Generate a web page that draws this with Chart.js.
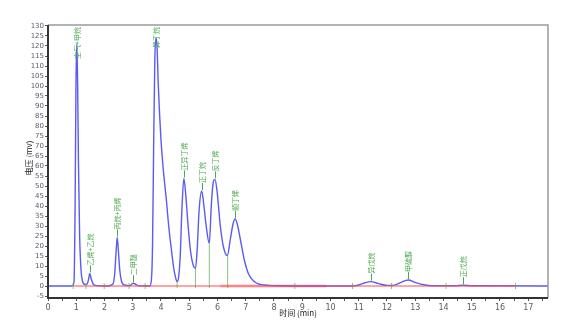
<!DOCTYPE html>
<html>
<head>
<meta charset="utf-8">
<script src="https://cdn.jsdelivr.net/npm/chart.js@4.4.0/dist/chart.umd.min.js"></script>
<style>
  html, body { margin: 0; padding: 0; background: #fff; }
  #wrap { width: 581px; height: 322px; position: relative; }
</style>
</head>
<body>
<div id="wrap"><canvas id="chart"></canvas></div>
<script>
// chromatogram trace (time in min, signal in mv)
const times = [0, 0.85, 0.92, 0.96, 0.99, 1.02, 1.05, 1.08, 1.12, 1.17, 1.22, 1.3, 1.38, 1.43, 1.48, 1.53, 1.6, 1.7,
    2.1, 2.3, 2.36, 2.41, 2.45, 2.49, 2.54, 2.6, 2.7, 2.9, 2.97, 3.02, 3.08, 3.2, 3.6, 3.66, 3.7, 3.74, 3.78, 3.82,
    3.86, 3.9, 3.95, 4.0, 4.07, 4.19, 4.28, 4.37, 4.45, 4.52, 4.57, 4.62, 4.68, 4.74, 4.81, 4.88, 4.96, 5.05, 5.15, 5.22, 5.28,
    5.35, 5.44, 5.52, 5.6, 5.71, 5.78, 5.85, 5.91, 5.98, 6.1, 6.22, 6.35, 6.45, 6.55, 6.62, 6.7, 6.8, 6.95, 7.1,
    7.3, 7.5, 7.8, 8.2, 9.0, 10.8, 11.0, 11.2, 11.43, 11.7, 12.0, 12.22, 12.5, 12.75, 13.0, 13.3, 13.6, 14.4,
    14.7, 15.0, 17.7];
const volts = [0, 0, 2, 40, 100, 121, 100, 60, 25, 8, 2.5, 0.8, 0.8, 3, 6.3, 3.5, 1, 0.2,
    0, 1, 6, 17, 24.3, 18, 8, 2.5, 0.5, 0.2, 1, 1.4, 1, 0.2, 0, 3, 20, 70, 112, 124,
    120, 102, 86, 73, 60, 43, 29, 18, 9, 4, 2.2, 4, 15, 38, 53.8, 45, 30, 17, 10, 8.8, 18,
    38, 47.5, 40, 30, 21.3, 40, 52, 53.3, 48, 30, 19, 15.2, 23, 31, 33.5, 31, 24, 13, 6,
    2.2, 0.8, 0.3, 0.1, 0, 0, 0.5, 1.5, 2.2, 1.2, 0.3, 0.3, 1.8, 3.0, 1.8, 0.6, 0.1, 0.1,
    0.4, 0.1, 0];

// peak labels
const peakNames = ['空气+甲烷', '乙烯+乙烷', '丙烷+丙烯', '二甲醚', '异丁烷', '正异丁烯', '正丁烷', '反丁烯', '顺丁烯', '异戊烷', '甲硫醇', '正戊烷'];
const peakTimes = [1.02, 1.48, 2.45, 3.02, 3.82, 4.81, 5.44, 5.91, 6.62, 11.43, 12.75, 14.7];
const peakHeights = [121, 6.3, 24.3, 1.4, 124, 53.8, 47.5, 53.3, 33.5, 2.2, 3.0, 0.4];

// integration marks and valley drop lines
const markTimes = [0.89, 1.34, 1.99, 2.87, 3.44, 8.74, 10.78, 12.16, 14.09, 16.55];
const dropTimes = [4.57, 5.22, 5.71, 6.36];
const dropHeights = [2.2, 8.8, 21.3, 15.2];
const baseStart = 0.89, baseEnd = 16.55;
const pinkStart = 6.1, pinkEnd = 9.85;

const xTicks = [0, 0.5, 1, 1.5, 2, 2.5, 3, 3.5, 4, 4.5, 5, 5.5, 6, 6.5, 7, 7.5, 8, 8.5, 9, 9.5, 10, 10.5, 11, 11.5,
    12, 12.5, 13, 13.5, 14, 14.5, 15, 15.5, 16, 16.5, 17, 17.5];
const yTicks = [-5, 0, 5, 10, 15, 20, 25, 30, 35, 40, 45, 50, 55, 60, 65, 70, 75, 80, 85, 90, 95, 100, 105, 110,
    115, 120, 125, 130];

const green = '#4aa84a';

const trace = times.map((t, i) => ({ x: t, y: volts[i] }));

const greenSegs = [];
markTimes.forEach(t => {
    greenSegs.push({ x: t, y: -1.5 }, { x: t, y: 1.5 }, { x: t, y: null });
});
dropTimes.forEach((t, i) => {
    greenSegs.push({ x: t, y: -1 }, { x: t, y: dropHeights[i] }, { x: t, y: null });
});

const labelsPlugin = {
    id: 'peakLabels',
    afterDatasetsDraw(chart) {
        const ctx = chart.ctx;
        const xs = chart.scales.x, ys = chart.scales.y;
        const top = chart.chartArea.top;
        ctx.save();
        ctx.font = '7px "Noto Sans CJK SC"';
        ctx.fillStyle = green;
        ctx.strokeStyle = green;
        ctx.lineWidth = 1;
        peakNames.forEach((name, i) => {
            const px = Math.round(xs.getPixelForValue(peakTimes[i])) + 0.5;
            const py = ys.getPixelForValue(peakHeights[i]);
            const w = ctx.measureText(name).width;
            let start = py - 8;
            if (start - w < top + 2) start = top + 2 + w;
            ctx.beginPath();
            ctx.moveTo(px, py - 1);
            ctx.lineTo(px, Math.min(py - 1, start));
            ctx.stroke();
            ctx.save();
            ctx.translate(px, start);
            ctx.rotate(-Math.PI / 2);
            ctx.textAlign = 'left';
            ctx.textBaseline = 'middle';
            ctx.fillText(name, 0, 0);
            ctx.restore();
        });
        ctx.restore();
    },
    afterDraw(chart) {
        const ctx = chart.ctx;
        const a = chart.chartArea;
        ctx.save();
        ctx.strokeStyle = '#9a9a9a';
        ctx.lineWidth = 1.5;
        ctx.beginPath();
        ctx.moveTo(a.left, a.top);
        ctx.lineTo(a.right, a.top);
        ctx.lineTo(a.right, a.bottom);
        ctx.stroke();
        ctx.strokeStyle = '#333';
        ctx.lineWidth = 2;
        ctx.beginPath();
        ctx.moveTo(a.left, a.top);
        ctx.lineTo(a.left, a.bottom);
        ctx.lineTo(a.right, a.bottom);
        ctx.stroke();
        // axis titles
        ctx.fillStyle = '#222';
        ctx.font = '8px "Noto Sans CJK SC"';
        ctx.textAlign = 'center';
        ctx.textBaseline = 'middle';
        ctx.fillText('时间 (min)', (a.left + a.right) / 2, 313);
        ctx.translate(29, 158);
        ctx.rotate(-Math.PI / 2);
        ctx.fillText('电压 (mv)', 0, 0);
        ctx.restore();
    }
};

new Chart(document.getElementById('chart'), {
    type: 'line',
    data: {
        datasets: [
            {
                data: [{ x: baseStart, y: 0 }, { x: baseEnd, y: 0 }],
                borderColor: '#ff4a4a',
                borderWidth: 1.2,
                pointRadius: 0,
                order: 0
            },
            {
                data: greenSegs,
                borderColor: 'rgba(90,175,90,0.75)',
                borderWidth: 1,
                pointRadius: 0,
                spanGaps: false,
                order: 1
            },
            {
                data: trace,
                borderColor: '#5a5af5',
                borderWidth: 1.4,
                pointRadius: 0,
                cubicInterpolationMode: 'monotone',
                order: 2
            },
            {
                data: [{ x: pinkStart, y: 0 }, { x: pinkEnd, y: 0 }],
                borderColor: 'rgba(255,160,170,0.7)',
                borderWidth: 3,
                pointRadius: 0,
                order: 3
            }
        ]
    },
    options: {
        responsive: true,
        maintainAspectRatio: false,
        animation: false,
        layout: { padding: { left: 0, top: 25, right: 33, bottom: 0 } },
        plugins: { legend: { display: false }, tooltip: { enabled: false } },
        scales: {
            x: {
                type: 'linear',
                min: 0,
                max: 17.7,
                afterBuildTicks: s => { s.ticks = xTicks.map(v => ({ value: v })); },
                afterFit: s => { s.height = 24; },
                border: { display: false },
                grid: { drawOnChartArea: false, tickLength: 3, color: '#555' },
                ticks: {
                    autoSkip: false,
                    maxRotation: 0,
                    padding: 2,
                    color: '#5a5a6a',
                    font: { size: 8, family: 'DejaVu Sans' },
                    callback: v => (Number.isInteger(v) ? String(v) : '')
                }
            },
            y: {
                min: -6,
                max: 130.5,
                afterBuildTicks: s => { s.ticks = yTicks.map(v => ({ value: v })); },
                afterFit: s => { s.width = 48; },
                border: { display: false },
                grid: { drawOnChartArea: false, tickLength: 3, color: '#555' },
                ticks: {
                    autoSkip: false,
                    padding: 1,
                    color: '#5a5a6a',
                    font: { size: 7, family: 'DejaVu Sans' }
                }
            }
        }
    },
    plugins: [labelsPlugin]
});
</script>
</body>
</html>
